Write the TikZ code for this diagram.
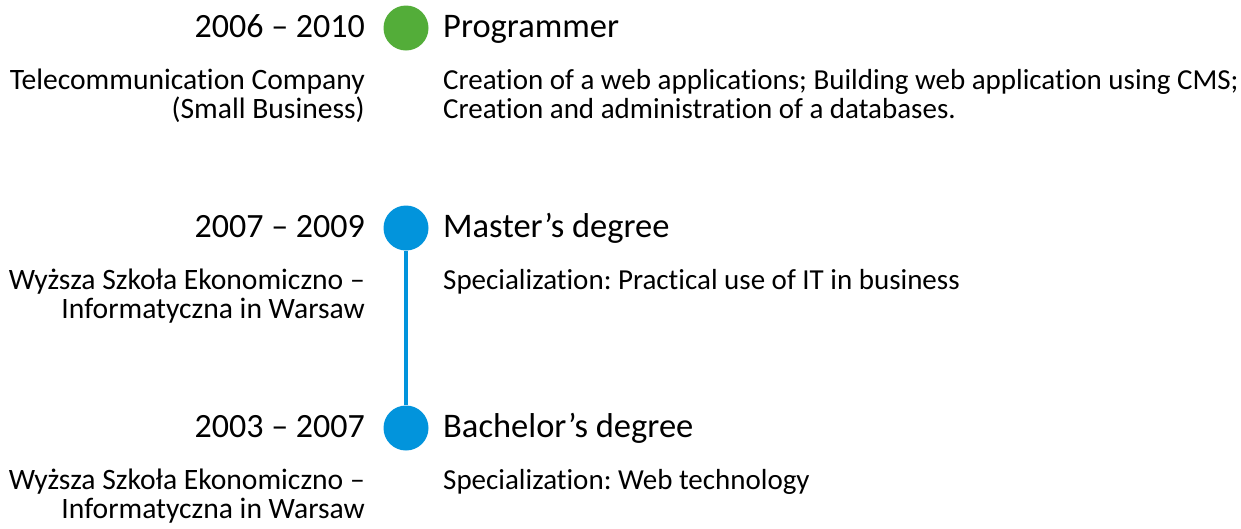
\documentclass[tikz,border=0pt]{standalone}
\usepackage{fontspec}
\setmainfont{Carlito}[Ligatures={NoCommon}]
\usepackage{xcolor}
\usetikzlibrary{positioning}

\definecolor{jobgreen}{RGB}{83,173,57}
\definecolor{edublue}{RGB}{2,148,220}

\frenchspacing
\begin{document}
\begin{tikzpicture}[
        x=1pt, y=-1pt,
        dot/.style={circle, minimum size=45pt, inner sep=0pt},
        years/.style={anchor=base east, inner sep=0pt, font=\fontsize{34}{40}\selectfont},
        heading/.style={anchor=base west, inner sep=0pt, font=\fontsize{34.5}{40}\selectfont},
        place/.style={anchor=base east, align=right, inner sep=0pt, font=\fontsize{29.6}{28.5}\selectfont},
        info/.style={anchor=base west, align=left, inner sep=0pt, font=\fontsize{29}{28.5}\selectfont},
    ]

    \def\xdot{406}
    \def\xleft{365}
    \def\xright{443}

    \useasboundingbox (0,0) rectangle (1241,528);

    % job
    \node[dot, fill=jobgreen] (prog) at (\xdot,28) {};
    \node[years] (progyears) at (\xleft,37) {2006 – 2010};
    \node[heading] (progtitle) at (\xright,37) {Programmer};
    \node[place] (progplace) at (\xleft,118) {Telecommunication Company\\(Small Business)};
    \node[info] (proginfo) at (\xright,118) {Creation of a web applications; Building web application using CMS;\\Creation and administration of a databases.};

    % education
    \node[dot, fill=edublue] (master) at (\xdot,228) {};
    \node[years] (masteryears) at (\xleft,237) {2007 – 2009};
    \node[heading] (mastertitle) at (\xright,237) {Master’s degree};
    \node[place] (masterplace) at (\xleft,318) {Wyższa Szkoła Ekonomiczno –\\Informatyczna in Warsaw};
    \node[info] (masterinfo) at (\xright,289) {Specialization: Practical use of IT in business};

    \node[dot, fill=edublue] (bachelor) at (\xdot,428) {};
    \node[years] (bacheloryears) at (\xleft,437) {2003 – 2007};
    \node[heading] (bachelortitle) at (\xright,437) {Bachelor’s degree};
    \node[place] (bachelorplace) at (\xleft,518) {Wyższa Szkoła Ekonomiczno –\\Informatyczna in Warsaw};
    \node[info] (bachelorinfo) at (\xright,489) {Specialization: Web technology};

    \draw[edublue, line width=4pt] (master) -- (bachelor);

\end{tikzpicture}
\end{document}
